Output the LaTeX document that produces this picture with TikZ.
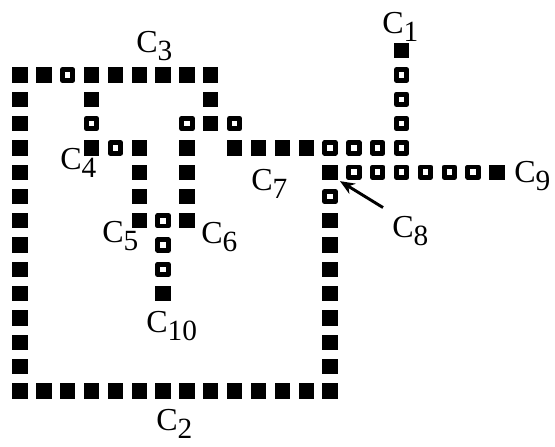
\documentclass[tikz,border=0pt]{standalone}
\usepackage{fontspec}
\setmainfont{Liberation Serif}
\usetikzlibrary{arrows.meta}
\newcommand{\cname}[1]{C\raisebox{-6pt}{\fontsize{22}{26}\selectfont #1}}
\begin{document}
\begin{tikzpicture}[x=0.75pt,y=-0.75pt,line join=round]
\tikzstyle{cell} = [rectangle,fill=black,inner sep=0pt,minimum size=11.5pt]
\tikzstyle{open cell} = [rectangle,draw=black,fill=white,line width=3.7pt,inner sep=0pt,minimum size=7.8pt]
\tikzstyle{chain label} = [anchor=base west,inner sep=0pt,font=\fontsize{24}{28}\selectfont]

\useasboundingbox (0,0) rectangle (555,446);

\foreach \c/\r in {0/0,0/1,0/2,0/3,0/4,0/5,0/6,0/7,0/8,0/9,0/10,0/11,0/12,0/13,
  1/13,2/13,3/13,4/13,5/13,6/13,7/13,8/13,9/13,10/13,11/13,12/13,13/13,
  13/12,13/11,13/10,13/9,13/8,13/7,13/6,13/4,
  1/0,3/0,4/0,5/0,6/0,7/0,8/0,8/1,8/2,
  3/1,3/3,5/3,5/4,5/5,5/6,
  7/3,7/4,7/5,7/6,6/9,
  9/3,10/3,11/3,12/3,16/-1,20/4}
  \node[cell] (s-\c-\r) at ({20+23.85*\c},{75+24.3*\r}) {};

\foreach \c/\r in {2/0,3/2,4/3,7/2,9/2,6/6,6/7,6/8,
  13/3,14/3,15/3,16/3,16/2,16/1,16/0,
  14/4,15/4,16/4,17/4,18/4,19/4,13/5}
  \node[open cell] (s-\c-\r) at ({20+23.85*\c},{75+24.3*\r}) {};

\node[chain label] (c1) at (382,33) {\cname{1}};
\node[chain label] (c2) at (156,430) {\cname{2}};
\node[chain label] (c3) at (136,52) {\cname{3}};
\node[chain label] (c4) at (60,169) {\cname{4}};
\node[chain label] (c5) at (102,242) {\cname{5}};
\node[chain label] (c6) at (201,243) {\cname{6}};
\node[chain label] (c7) at (251,190) {\cname{7}};
\node[chain label] (c8) at (392,237) {\cname{8}};
\node[chain label] (c9) at (514,182) {\cname{9}};
\node[chain label] (c10) at (146,332) {\cname{10}};

\draw[line width=2.2pt,-{Stealth[length=11pt,width=9pt]}] ([shift={(-9,-8)}]c8.north west) -- ([shift={(2,1)}]s-13-4.south east);

\end{tikzpicture}
\end{document}
